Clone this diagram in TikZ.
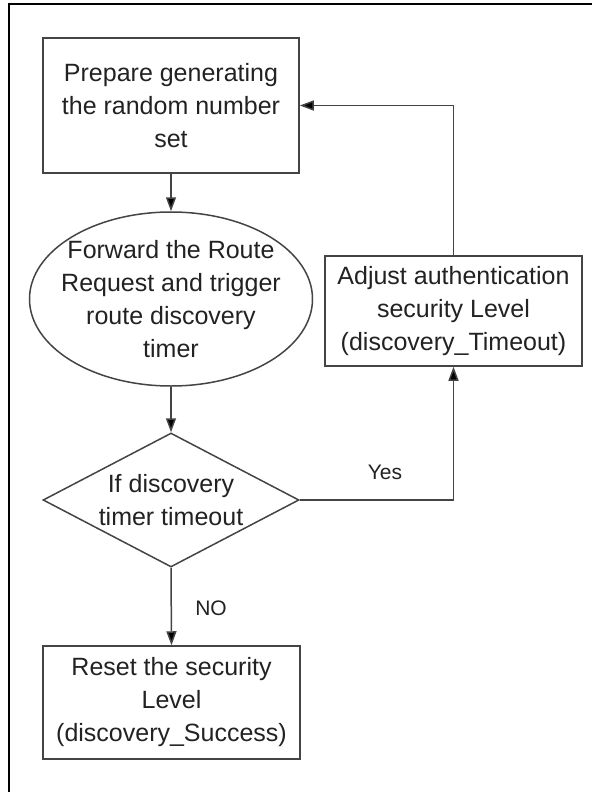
\documentclass[tikz,border=0pt]{standalone}
\usepackage{fontspec}
\setmainfont{Liberation Sans}
\usetikzlibrary{shapes.geometric,arrows.meta}

\definecolor{edgegray}{HTML}{444444}
\definecolor{inkgray}{HTML}{222222}

\tikzset{
  txt/.style={align=center, text=inkgray, font=\fontsize{25}{33}\selectfont, inner sep=0pt},
  lbl/.style={text=inkgray, font=\fontsize{21}{25}\selectfont, inner sep=0pt},
  box/.style={draw=edgegray, line width=1.5pt, rectangle, inner sep=0pt},
  oval/.style={draw=edgegray, line width=1.5pt, ellipse, inner sep=0pt},
  decision/.style={draw=edgegray, line width=1.5pt, diamond, inner sep=0pt},
  flow/.style={draw=edgegray, line width=1.5pt, -{Triangle[length=14pt,width=10pt,fill=black]}},
  frame/.style={draw=black, line width=2.4pt}
}

\begin{document}
\begin{tikzpicture}[x=1pt, y=-1pt]
  \useasboundingbox (0,0) rectangle (592,792);

  % partial outer frame
  \coordinate (fbl) at (9,792);
  \coordinate (ftl) at (9,4);
  \coordinate (ftr) at (592,4);
  \draw[frame] (fbl) -- (ftl) -- (ftr);

  % process steps
  \node[box, minimum width=256pt, minimum height=135pt,
        label={[txt]center:Prepare generating\\the random number\\set}]
        (prep) at (171,105.5) {};

  \node[oval, minimum width=283pt, minimum height=174pt,
        label={[txt]center:Forward the Route\\Request and trigger\\route discovery\\timer}]
        (fwd) at (171,299) {};

  \node[decision, minimum width=256pt, minimum height=134pt,
        label={[txt]center:If discovery\\timer timeout}]
        (cond) at (171,500) {};

  \node[box, minimum width=257pt, minimum height=110pt,
        label={[txt]center:Adjust authentication\\security Level\\(discovery\_Timeout)}]
        (adjust) at (453.5,311) {};

  \node[box, minimum width=257pt, minimum height=113pt,
        label={[txt]center:Reset the security\\Level\\(discovery\_Success)}]
        (reset) at (171.5,702.5) {};

  % connectors
  \draw[flow] (prep.south) -- (fwd.north);
  \draw[flow] (fwd.south) -- (cond.north);
  \draw[flow] (cond.south) -- (reset.north);
  \draw[flow] (cond.east) -| (adjust.south);
  \draw[flow] (adjust.north) |- (prep.east);

  % branch labels
  \node[lbl] (yes) at (385,472) {Yes};
  \node[lbl] (no) at (211,608) {NO};
\end{tikzpicture}
\end{document}
